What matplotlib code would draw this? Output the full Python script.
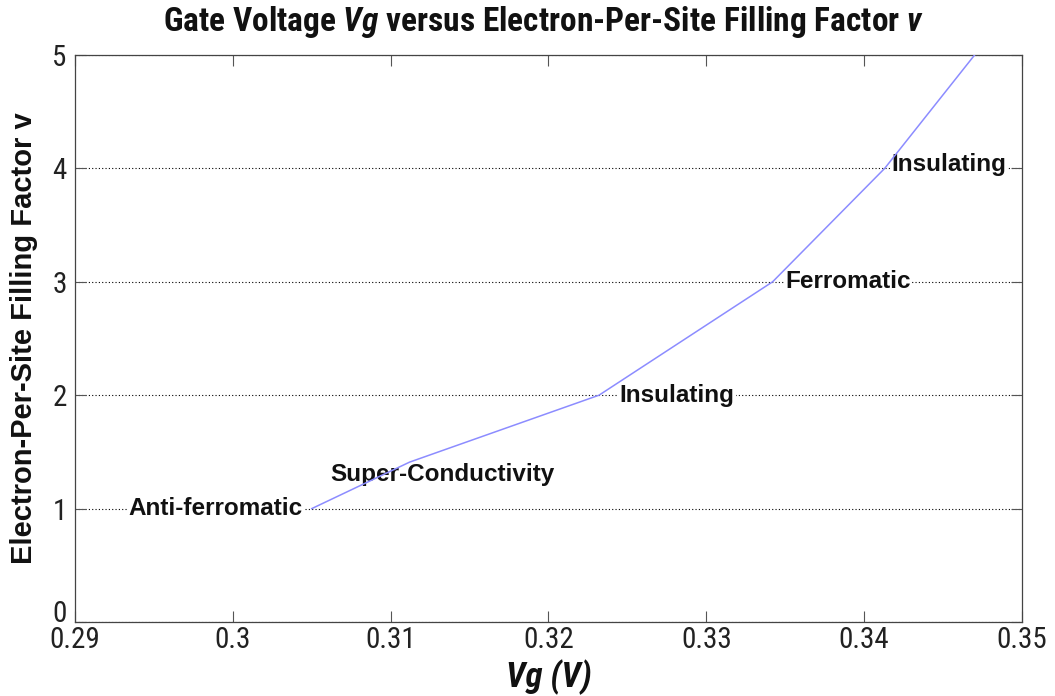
import matplotlib
matplotlib.use("Agg")
import matplotlib.pyplot as plt
import matplotlib.transforms as mtransforms
from matplotlib import font_manager

# Gate voltage (V) and filling factor at each phase transition
vg = [0.3050, 0.3112, 0.3232, 0.3342, 0.3413, 0.3470]
nu = [1.0, 1.41, 2.0, 3.0, 4.0, 5.0]

# Phase labels and where they sit (left edge, vertical centre)
phase_names = ["Anti-ferromatic", "Super-Conductivity", "Insulating", "Ferromatic", "Insulating"]
phase_x = [0.2934, 0.3062, 0.3245, 0.3350, 0.3417]
phase_y = [1.0, 1.30, 2.0, 3.0, 4.03]

x_ticks = [0.29, 0.30, 0.31, 0.32, 0.33, 0.34, 0.35]
x_tick_labels = ["0.29", "0.3", "0.31", "0.32", "0.33", "0.34", "0.35"]
y_ticks = [0, 1, 2, 3, 4, 5]


def pick_family(candidates, default="DejaVu Sans"):
    for name in candidates:
        try:
            font_manager.findfont(font_manager.FontProperties(family=name),
                                  fallback_to_default=False)
            return name
        except Exception:
            continue
    return default


narrow = pick_family(["Liberation Sans Narrow", "Arial Narrow", "Roboto Condensed"], None)
sans = pick_family(["Liberation Sans", "Arial"])
title_family = narrow if narrow else sans

plt.rcParams["font.family"] = [sans, "DejaVu Sans"]
plt.rcParams["mathtext.fontset"] = "custom"
plt.rcParams["mathtext.rm"] = f"{title_family}:bold"
plt.rcParams["mathtext.it"] = f"{title_family}:italic:bold"
plt.rcParams["mathtext.bf"] = f"{title_family}:bold"

fig = plt.figure(figsize=(10.55, 6.96), dpi=100)
ax = fig.add_axes([0.0711, 0.1063, 0.8976, 0.8147])

# curve sits above the label boxes so it shows through the text
ax.plot(vg, nu, color="#8c8cff", linewidth=1.1, zorder=5)

ax.set_xlim(0.29, 0.35)
ax.set_ylim(0, 5)
ax.set_xticks(x_ticks)
ax.set_yticks(y_ticks)

tick_size = 21 if narrow else 17
ax.set_xticklabels(x_tick_labels, family=title_family, size=tick_size)
ax.set_yticklabels([str(t) for t in y_ticks], family=title_family, size=tick_size)

ax.tick_params(direction="in", length=8, width=0.8, top=True, right=True,
               colors="#555555", labelcolor="#222222", pad=3)
ax.tick_params(axis="y", pad=6)

# lift the "0" on the y axis so it clears the first x label
zero_label = ax.get_yticklabels()[0]
zero_label.set_transform(zero_label.get_transform() +
                         mtransforms.ScaledTranslation(0, 8 / 72, fig.dpi_scale_trans))

ax.yaxis.grid(True, linestyle=(0, (1, 2)), color="black", linewidth=0.8)
ax.set_axisbelow(True)
for sp in ax.spines.values():
    sp.set_color("#444444")
    sp.set_linewidth(0.9)

for name, x, y in zip(phase_names, phase_x, phase_y):
    ax.text(x, y, name, fontsize=17.5, fontweight="bold", ha="left", va="center",
            color="#111111", zorder=4,
            bbox=dict(facecolor="white", edgecolor="none", pad=1.0))

title_size = 24 if narrow else 18
fig.text(0.515, 0.968,
         r"Gate Voltage $\mathit{Vg}$ versus Electron-Per-Site Filling Factor $\mathit{v}$",
         ha="center", va="center", fontsize=title_size, family=title_family,
         fontweight="bold", color="#111111")

ax.set_xlabel("Vg (V)", fontsize=25 if narrow else 19, family=title_family,
              style="italic", fontweight="bold", labelpad=4, color="#111111")
ax.set_ylabel("Electron-Per-Site Filling Factor v", fontsize=21, fontweight="bold",
              labelpad=10, color="#111111")

fig.savefig("out.png", dpi=100, facecolor="white")
